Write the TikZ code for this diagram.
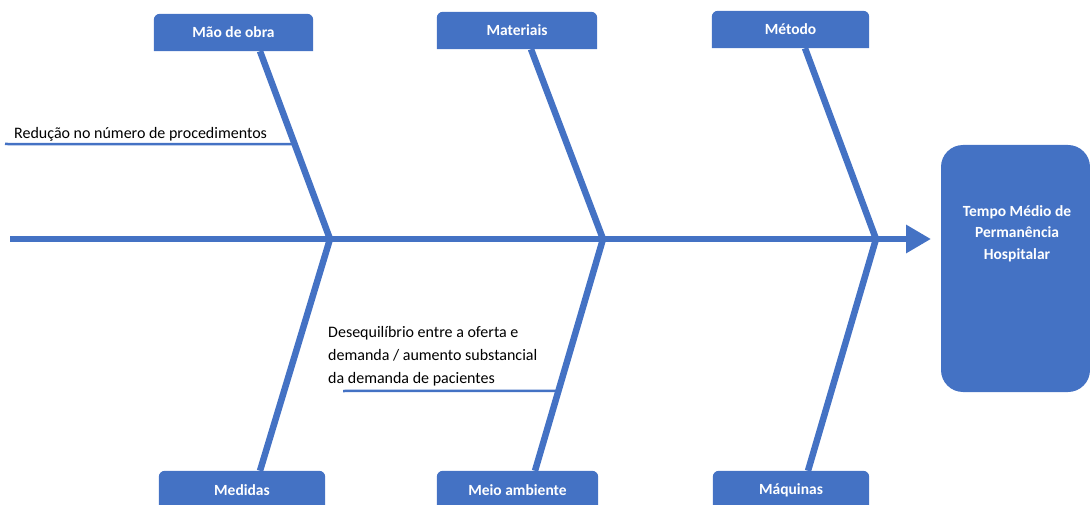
\documentclass[tikz,border=0pt]{standalone}
\usepackage{fontspec}
\setmainfont{Carlito}
\usetikzlibrary{arrows.meta,positioning,backgrounds,calc}
\definecolor{ishi}{HTML}{4472C4}
\tikzstyle{cat}=[text=white, font=\bfseries\fontsize{15.5}{17}\selectfont, minimum height=37pt, inner sep=0pt]
\tikzstyle{bone}=[draw=ishi, line width=6.5pt]
\tikzstyle{twig}=[draw=ishi, line width=2.5pt]
\tikzstyle{cause}=[font=\fontsize{16}{23}\selectfont, align=left, inner sep=0pt]
\tikzstyle{effect}=[fill=ishi, rounded corners=22pt, minimum width=149pt, minimum height=247pt, inner sep=0pt]

\begin{document}
\begin{tikzpicture}[x=1pt, y=-1pt]
\useasboundingbox (0,0) rectangle (1090,505);
%
  \node[cat, minimum width=159pt] (mo) at (233.5,32.5) {Mão de obra};
  \node[cat, minimum width=160pt] (mat) at (517,30.5) {Materiais};
  \node[cat, minimum width=157pt] (met) at (790.5,29.5) {Método};
  \node[cat, minimum width=166pt, minimum height=38pt] (med) at (242,490) {Medidas};
  \node[cat, minimum width=161pt, minimum height=38pt] (mei) at (517.5,490) {Meio ambiente};
  \node[cat, minimum width=156pt, minimum height=38pt] (maq) at (791,490) {Máquinas};
  \begin{scope}[on background layer]
  \foreach \n in {mo,mat,met,med,mei,maq}
    \fill[ishi] (\n.south west) [rounded corners=6pt] -- (\n.north west) -- (\n.north east) [sharp corners] -- (\n.south east) -- cycle;
  \end{scope}
%
  \node[effect] (tmp) at (1015.5,268.5) {};
  \node[text=white, font=\bfseries\fontsize{15.5}{21.5}\selectfont, align=center] (tmpt) at ([xshift=1.5pt,yshift=-88.5pt]tmp.north) {Tempo Médio de\\Permanência\\Hospitalar};
%
  \coordinate (tail) at (10,239);
  \coordinate (tip) at (931,239);
  \coordinate (j1) at (330,239);
  \coordinate (j2) at (603,239);
  \coordinate (j3) at (876,239);
  \coordinate (mo-b) at ([xshift=26.5pt]mo.south);
  \coordinate (mat-b) at ([xshift=14pt]mat.south);
  \coordinate (met-b) at ([xshift=14.5pt]met.south);
  \coordinate (med-b) at ([xshift=18pt]med.north);
  \coordinate (mei-b) at ([xshift=17.5pt]mei.north);
  \coordinate (maq-b) at ([xshift=17pt]maq.north);
  \draw[bone, -{Triangle[length=25pt, width=27pt]}] (tail) -- (tip);
  \path[bone]
	(j1) edge (mo-b)
	(j1) edge (med-b)
	(j2) edge (mat-b)
	(j2) edge (mei-b)
	(j3) edge (met-b)
	(j3) edge (maq-b);
%
  \coordinate (c1) at (5,144);
  \coordinate (c2) at (343,391);
  \draw[twig] (c1) -- ($(j1)!0.505!(mo-b)$);
  \draw[twig] (c2) -- ($(j2)!0.655!(mei-b)$);
  \node[cause, anchor=base west] (r1) at (14,139) {Redução no número de procedimentos};
  \node[cause, anchor=north west] (r2) at (328,326) {Desequilíbrio entre a oferta e\\demanda / aumento substancial\\da demanda de pacientes};
%
\end{tikzpicture}
\end{document}
